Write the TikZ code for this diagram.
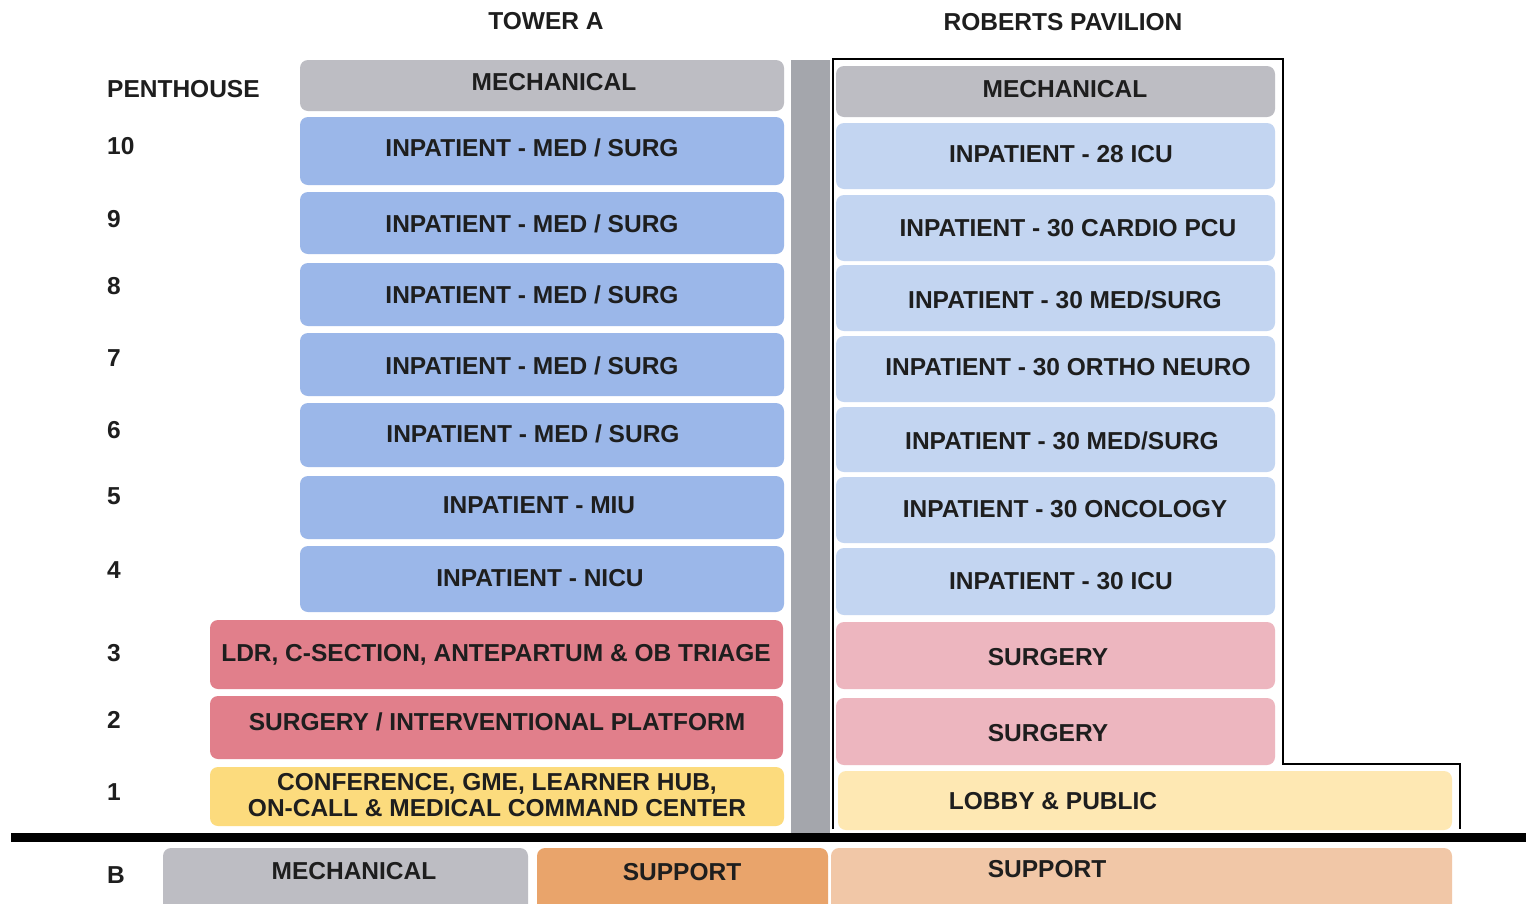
\documentclass[tikz,border=0pt]{standalone}
\usepackage{fontspec}
\setmainfont{Liberation Sans}
\definecolor{mech}{HTML}{BDBDC3}
\definecolor{blueA}{HTML}{9BB7E9}
\definecolor{blueB}{HTML}{C3D5F1}
\definecolor{redA}{HTML}{E17F8B}
\definecolor{pinkB}{HTML}{EDB6BF}
\definecolor{yelA}{HTML}{FCDB7D}
\definecolor{yelB}{HTML}{FEE8B3}
\definecolor{orA}{HTML}{E9A46B}
\definecolor{orB}{HTML}{F1C7A7}
\definecolor{col}{HTML}{A4A6AC}
\definecolor{txt}{HTML}{1E1E1E}
\tikzset{
  flr/.style={rounded corners=8pt, draw=none},
  lbl/.style={font=\fontsize{24.5}{26}\selectfont\bfseries, text=txt, inner sep=0pt, align=center},
}
\newcommand{\flbox}[9]{%
  \path[flr, fill=#6] (#2,#3) rectangle (#4,#5);
  \node[lbl] (#1) at (#7,#8) {#9};}
\begin{document}
\begin{tikzpicture}[x=1pt,y=-1pt]
\useasboundingbox (0,0) rectangle (1526,903);
\clip (0,0) rectangle (1526,903);
\fill[white] (0,0) rectangle (1526,903);
% headers
\node[lbl] (hA) at (546,21) {TOWER A};
\node[lbl] (hB) at (1063,22) {ROBERTS PAVILION};
% floor labels
\node[lbl, anchor=west] (lP) at (107,89) {PENTHOUSE};
\node[lbl, anchor=west] (l10) at (107,146) {10};
\node[lbl, anchor=west] (l9) at (107,219) {9};
\node[lbl, anchor=west] (l8) at (107,286) {8};
\node[lbl, anchor=west] (l7) at (107,358) {7};
\node[lbl, anchor=west] (l6) at (107,430) {6};
\node[lbl, anchor=west] (l5) at (107,496) {5};
\node[lbl, anchor=west] (l4) at (107,570) {4};
\node[lbl, anchor=west] (l3) at (107,653) {3};
\node[lbl, anchor=west] (l2) at (107,720) {2};
\node[lbl, anchor=west] (l1) at (107,792) {1};
\node[lbl, anchor=west] (lB) at (107,875) {B};
% Roberts outline
\draw[line width=2pt, black] (833,829) -- (833,59) -- (1283,59) -- (1283,764) -- (1460,764) -- (1460,829);
% column
\fill[col] (791,60) rectangle (830,836);
% Tower A
\flbox{aM}{300}{60}{784}{111}{mech}{554}{82}{MECHANICAL}
\flbox{a10}{300}{117}{784}{185}{blueA}{532}{148}{INPATIENT - MED / SURG}
\flbox{a9}{300}{192}{784}{254}{blueA}{532}{224}{INPATIENT - MED / SURG}
\flbox{a8}{300}{263}{784}{326}{blueA}{532}{295}{INPATIENT - MED / SURG}
\flbox{a7}{300}{333}{784}{396}{blueA}{532}{366}{INPATIENT - MED / SURG}
\flbox{a6}{300}{403}{784}{467}{blueA}{533}{434}{INPATIENT - MED / SURG}
\flbox{a5}{300}{476}{784}{539}{blueA}{539}{505}{INPATIENT - MIU}
\flbox{a4}{300}{546}{784}{612}{blueA}{540}{578}{INPATIENT - NICU}
\flbox{a3}{210}{620}{783}{689}{redA}{496}{655}{LDR, C-SECTION, ANTEPARTUM \& OB TRIAGE}
\flbox{a2}{210}{696}{783}{759}{redA}{497}{722}{SURGERY / INTERVENTIONAL PLATFORM}
\flbox{a1}{210}{767}{784}{826}{yelA}{497}{795}{CONFERENCE, GME, LEARNER HUB,\\ON-CALL \& MEDICAL COMMAND CENTER}
% Roberts
\flbox{bM}{836}{66}{1275}{117}{mech}{1065}{89}{MECHANICAL}
\flbox{b10}{836}{123}{1275}{189}{blueB}{1061}{154}{INPATIENT - 28 ICU}
\flbox{b9}{836}{195}{1275}{261}{blueB}{1068}{228}{INPATIENT - 30 CARDIO PCU}
\flbox{b8}{836}{265}{1275}{331}{blueB}{1065}{300}{INPATIENT - 30 MED/SURG}
\flbox{b7}{836}{336}{1275}{402}{blueB}{1068}{367}{INPATIENT - 30 ORTHO NEURO}
\flbox{b6}{836}{407}{1275}{472}{blueB}{1062}{441}{INPATIENT - 30 MED/SURG}
\flbox{b5}{836}{477}{1275}{543}{blueB}{1065}{509}{INPATIENT - 30 ONCOLOGY}
\flbox{b4}{836}{548}{1275}{615}{blueB}{1061}{581}{INPATIENT - 30 ICU}
\flbox{b3}{836}{622}{1275}{689}{pinkB}{1048}{657}{SURGERY}
\flbox{b2}{836}{698}{1275}{765}{pinkB}{1048}{733}{SURGERY}
\flbox{b1}{838}{771}{1452}{830}{yelB}{1053}{801}{LOBBY \& PUBLIC}
% ground line
\fill[black] (11,833) rectangle (1526,842);
% basement
\flbox{cM}{163}{848}{528}{920}{mech}{354}{871}{MECHANICAL}
\flbox{cS}{537}{848}{828}{920}{orA}{682}{872}{SUPPORT}
\flbox{cR}{831}{848}{1452}{920}{orB}{1047}{869}{SUPPORT}
\end{tikzpicture}
\end{document}
